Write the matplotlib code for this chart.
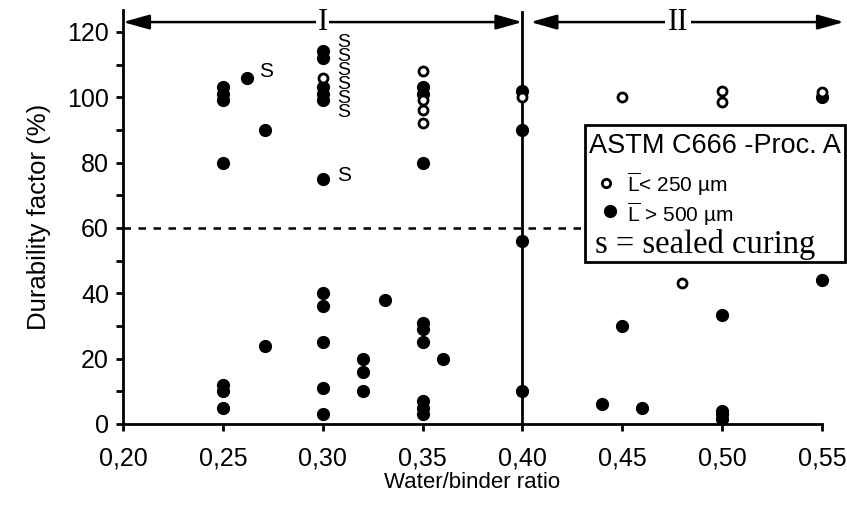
import matplotlib
matplotlib.use("Agg")
import matplotlib.pyplot as plt
from matplotlib.ticker import FixedLocator

plt.rcParams['font.family'] = ['Liberation Sans', 'DejaVu Sans']
plt.rcParams['mathtext.fontset'] = 'custom'
plt.rcParams['mathtext.rm'] = 'Liberation Sans'

## data
# L-bar > 500 um (filled)
big_x = [0.25, 0.25, 0.25, 0.25, 0.25, 0.25, 0.25,
         0.262, 0.271, 0.271,
         0.30, 0.30, 0.30, 0.30, 0.30, 0.30, 0.30, 0.30, 0.30, 0.30, 0.30,
         0.32, 0.32, 0.32, 0.331,
         0.35, 0.35, 0.35, 0.35, 0.35, 0.35, 0.35, 0.35, 0.35, 0.36,
         0.40, 0.40, 0.40, 0.40,
         0.44, 0.45, 0.46, 0.50, 0.50, 0.50, 0.50, 0.55, 0.55]
big_y = [103, 101, 99, 80, 12, 10, 5,
         106, 90, 24,
         114, 112, 103, 101, 99, 75, 40, 36, 25, 11, 3,
         20, 16, 10, 38,
         103, 101, 80, 31, 29, 25, 7, 5, 3, 20,
         102, 90, 56, 10,
         6, 30, 5, 33.5, 4, 3, 1.5, 100, 44]
# L-bar < 250 um (open)
small_x = [0.30, 0.35, 0.35, 0.35, 0.35, 0.40, 0.45, 0.48, 0.50, 0.50, 0.55]
small_y = [106, 108, 99, 96, 92, 100, 100, 43, 102, 98.5, 101.5]
# sealed curing labels: single ones, then the stack beside the 0,30 group
sealed_x = [0.268, 0.307]
sealed_y = [108, 76]
stack_x, stack_y, stack_n = 0.307, 106, 6

x_ticks = [0.20, 0.25, 0.30, 0.35, 0.40, 0.45, 0.50, 0.55]
x_labels = ['0,20', '0,25', '0,30', '0,35', '0,40', '0,45', '0,50', '0,55']
y_ticks = [0, 20, 40, 60, 80, 100, 120]
limit_df = 60
wb_split = 0.40

fig = plt.figure(figsize=(8.47, 5.12), dpi=100)
ax = fig.add_axes([0.1452, 0.1719, 0.8253, 0.8086])

ax.set_xlim(0.20, 0.55)
ax.set_ylim(0, 126.7)

ax.spines['top'].set_visible(False)
ax.spines['right'].set_visible(False)
ax.spines['left'].set_linewidth(2)
ax.spines['bottom'].set_linewidth(2)

ax.set_xticks(x_ticks)
ax.set_xticklabels(x_labels)
ax.set_yticks(y_ticks)
ax.yaxis.set_minor_locator(FixedLocator([10, 30, 50, 70, 90, 110]))
ax.tick_params(axis='both', which='both', direction='out', length=5, width=2,
               labelsize=18)
ax.tick_params(axis='x', pad=11)
ax.tick_params(axis='y', pad=5)

ax.set_xlabel('Water/binder ratio', fontsize=16, labelpad=1)
ax.set_ylabel('Durability factor (%)', fontsize=18.5, labelpad=12)

# reference lines
ax.axhline(limit_df, color='black', lw=1.8, ls=(0, (3, 3)), zorder=1)
ax.plot([wb_split, wb_split], [0, 126], color='black', lw=2, clip_on=False, zorder=2)

# points
ax.plot(big_x, big_y, 'o', color='black', ms=8.5, clip_on=False, zorder=3)
ax.plot(small_x, small_y, 'o', mfc='white', mec='black', mew=2, ms=6.5,
        clip_on=False, zorder=4)
for sx, sy in zip(sealed_x, sealed_y):
    ax.text(sx, sy, 'S', fontsize=15, va='center', ha='left', zorder=4)
ax.text(stack_x, stack_y, '\n'.join(['S'] * stack_n), fontsize=14,
        linespacing=0.78, va='center', ha='left', zorder=4)

# region arrows
arrow_y = 123
astyle = '<|-|>,head_length=1.6,head_width=0.45'
ax.annotate('', xy=(0.20, arrow_y), xytext=(wb_split, arrow_y),
            arrowprops=dict(arrowstyle=astyle, color='black', lw=1.8,
                            mutation_scale=10, shrinkA=0, shrinkB=0),
            annotation_clip=False)
ax.annotate('', xy=(wb_split + 0.004, arrow_y), xytext=(0.561, arrow_y),
            arrowprops=dict(arrowstyle=astyle, color='black', lw=1.8,
                            mutation_scale=10, shrinkA=0, shrinkB=0),
            annotation_clip=False)
ax.text(0.30, arrow_y, 'I', family='Liberation Serif', fontsize=22,
        ha='center', va='center', bbox=dict(fc='white', ec='none', pad=1))
ax.text(0.478, arrow_y, 'II', family='Liberation Serif', fontsize=22,
        ha='center', va='center', bbox=dict(fc='white', ec='none', pad=2))

# legend box
box = plt.Rectangle((585 / 847, 1 - 262 / 512), 260 / 847, 137 / 512,
                    transform=fig.transFigure, fc='white', ec='black', lw=2,
                    zorder=5)
fig.patches.append(box)
fig.text(589 / 847, 1 - 146 / 512, 'ASTM C666 -Proc. A', fontsize=19.5,
         va='center', ha='left', zorder=6)
fig.text(627 / 847, 1 - 184 / 512, r'$\overline{\mathrm{L}}$< 250 µm', fontsize=15,
         va='center', ha='left', zorder=6)
fig.text(627 / 847, 1 - 214 / 512, r'$\overline{\mathrm{L}}$ > 500 µm', fontsize=15,
         va='center', ha='left', zorder=6)
fig.text(595 / 847, 1 - 245 / 512, 's = sealed curing', family='Liberation Serif',
         fontsize=23.5, va='center', ha='left', zorder=6)
fig.lines.append(plt.Line2D([606 / 847], [1 - 183 / 512], marker='o', mfc='white',
                            mec='black', mew=2, ms=6, transform=fig.transFigure,
                            zorder=6))
fig.lines.append(plt.Line2D([610 / 847], [1 - 211 / 512], marker='o', color='black',
                            ms=8.5, transform=fig.transFigure, zorder=6))

fig.savefig('out.png', dpi=100)
